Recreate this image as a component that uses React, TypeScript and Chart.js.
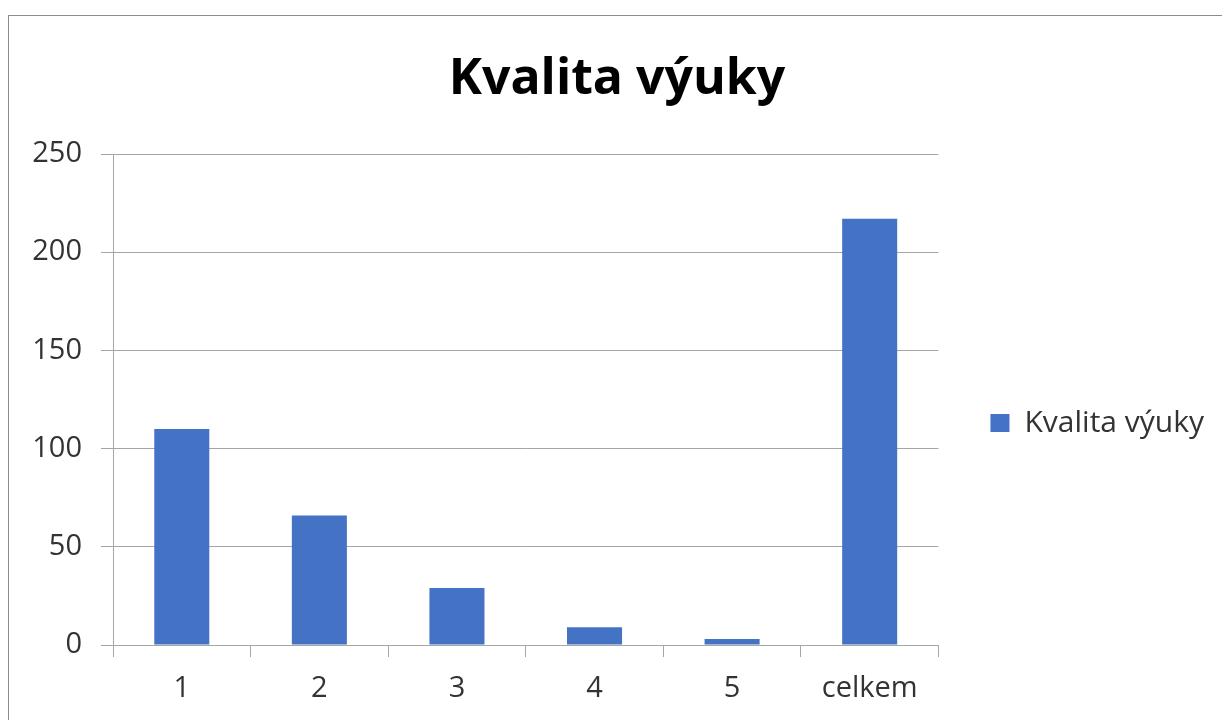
import React, { useEffect, useRef } from "react";
import { Chart, registerables } from "chart.js";

Chart.register(...registerables);

const chartTitle = "Kvalita výuky";
const seriesName = "Kvalita výuky";
const categories = ["1", "2", "3", "4", "5", "celkem"];
const values = [110, 66, 29, 9, 3, 217];
const yMin = 0;
const yMax = 250;
const yStep = 50;

const BAR_COLOR = "#4472C4";
const GRID_COLOR = "#a6a6a6";
const TEXT_COLOR = "#333333";
const FONT = "'Open Sans', sans-serif";

const CANVAS_W = 1213;
const CANVAS_H = 814;

export default function App() {
  const ref = useRef<HTMLCanvasElement | null>(null);

  useEffect(() => {
    if (!ref.current) return;
    const chart = new Chart(ref.current, {
      type: "bar",
      data: {
        labels: categories,
        datasets: [
          {
            label: seriesName,
            data: values,
            backgroundColor: BAR_COLOR,
            borderWidth: 0,
            categoryPercentage: 1,
            barPercentage: 0.4,
          },
        ],
      },
      options: {
        animation: false,
        responsive: false,
        devicePixelRatio: 1,
        layout: { padding: { left: 11, right: 8, top: 0, bottom: 0 } },
        plugins: {
          tooltip: { enabled: false },
          title: {
            display: true,
            text: chartTitle,
            color: "#000000",
            font: { family: FONT, size: 50, weight: "bold" },
            padding: { top: 34, bottom: 44 },
          },
          legend: {
            display: true,
            position: "right",
            labels: {
              boxWidth: 19,
              boxHeight: 18,
              padding: 52,
              color: TEXT_COLOR,
              font: { family: FONT, size: 30 },
            },
          },
        },
        scales: {
          x: {
            grid: {
              display: true,
              drawOnChartArea: false,
              drawTicks: true,
              tickLength: 12,
              color: GRID_COLOR,
              offset: true,
            },
            border: { display: true, color: GRID_COLOR },
            ticks: {
              color: TEXT_COLOR,
              font: { family: FONT, size: 29 },
              padding: 14,
              maxRotation: 0,
            },
            afterFit: (scale: any) => {
              scale.height = 185;
            },
          },
          y: {
            min: yMin,
            max: yMax,
            grid: {
              color: GRID_COLOR,
              tickLength: 12,
              drawTicks: true,
            },
            border: { display: true, color: GRID_COLOR },
            ticks: {
              stepSize: yStep,
              color: TEXT_COLOR,
              font: { family: FONT, size: 29 },
              padding: 19,
            },
            afterFit: (scale: any) => {
              scale.width = 93;
            },
          },
        },
      },
    });
    return () => chart.destroy();
  }, []);

  return (
    <div
      style={{
        position: "fixed",
        left: 8,
        top: 15,
        width: 1214,
        height: 705,
        boxSizing: "border-box",
        borderLeft: "1px solid #8c8c8c",
        borderTop: "1px solid #8c8c8c",
        overflow: "hidden",
        background: "#ffffff",
      }}
    >
      <canvas
        ref={ref}
        width={CANVAS_W}
        height={CANVAS_H}
        style={{ display: "block", width: CANVAS_W, height: CANVAS_H }}
      />
    </div>
  );
}
